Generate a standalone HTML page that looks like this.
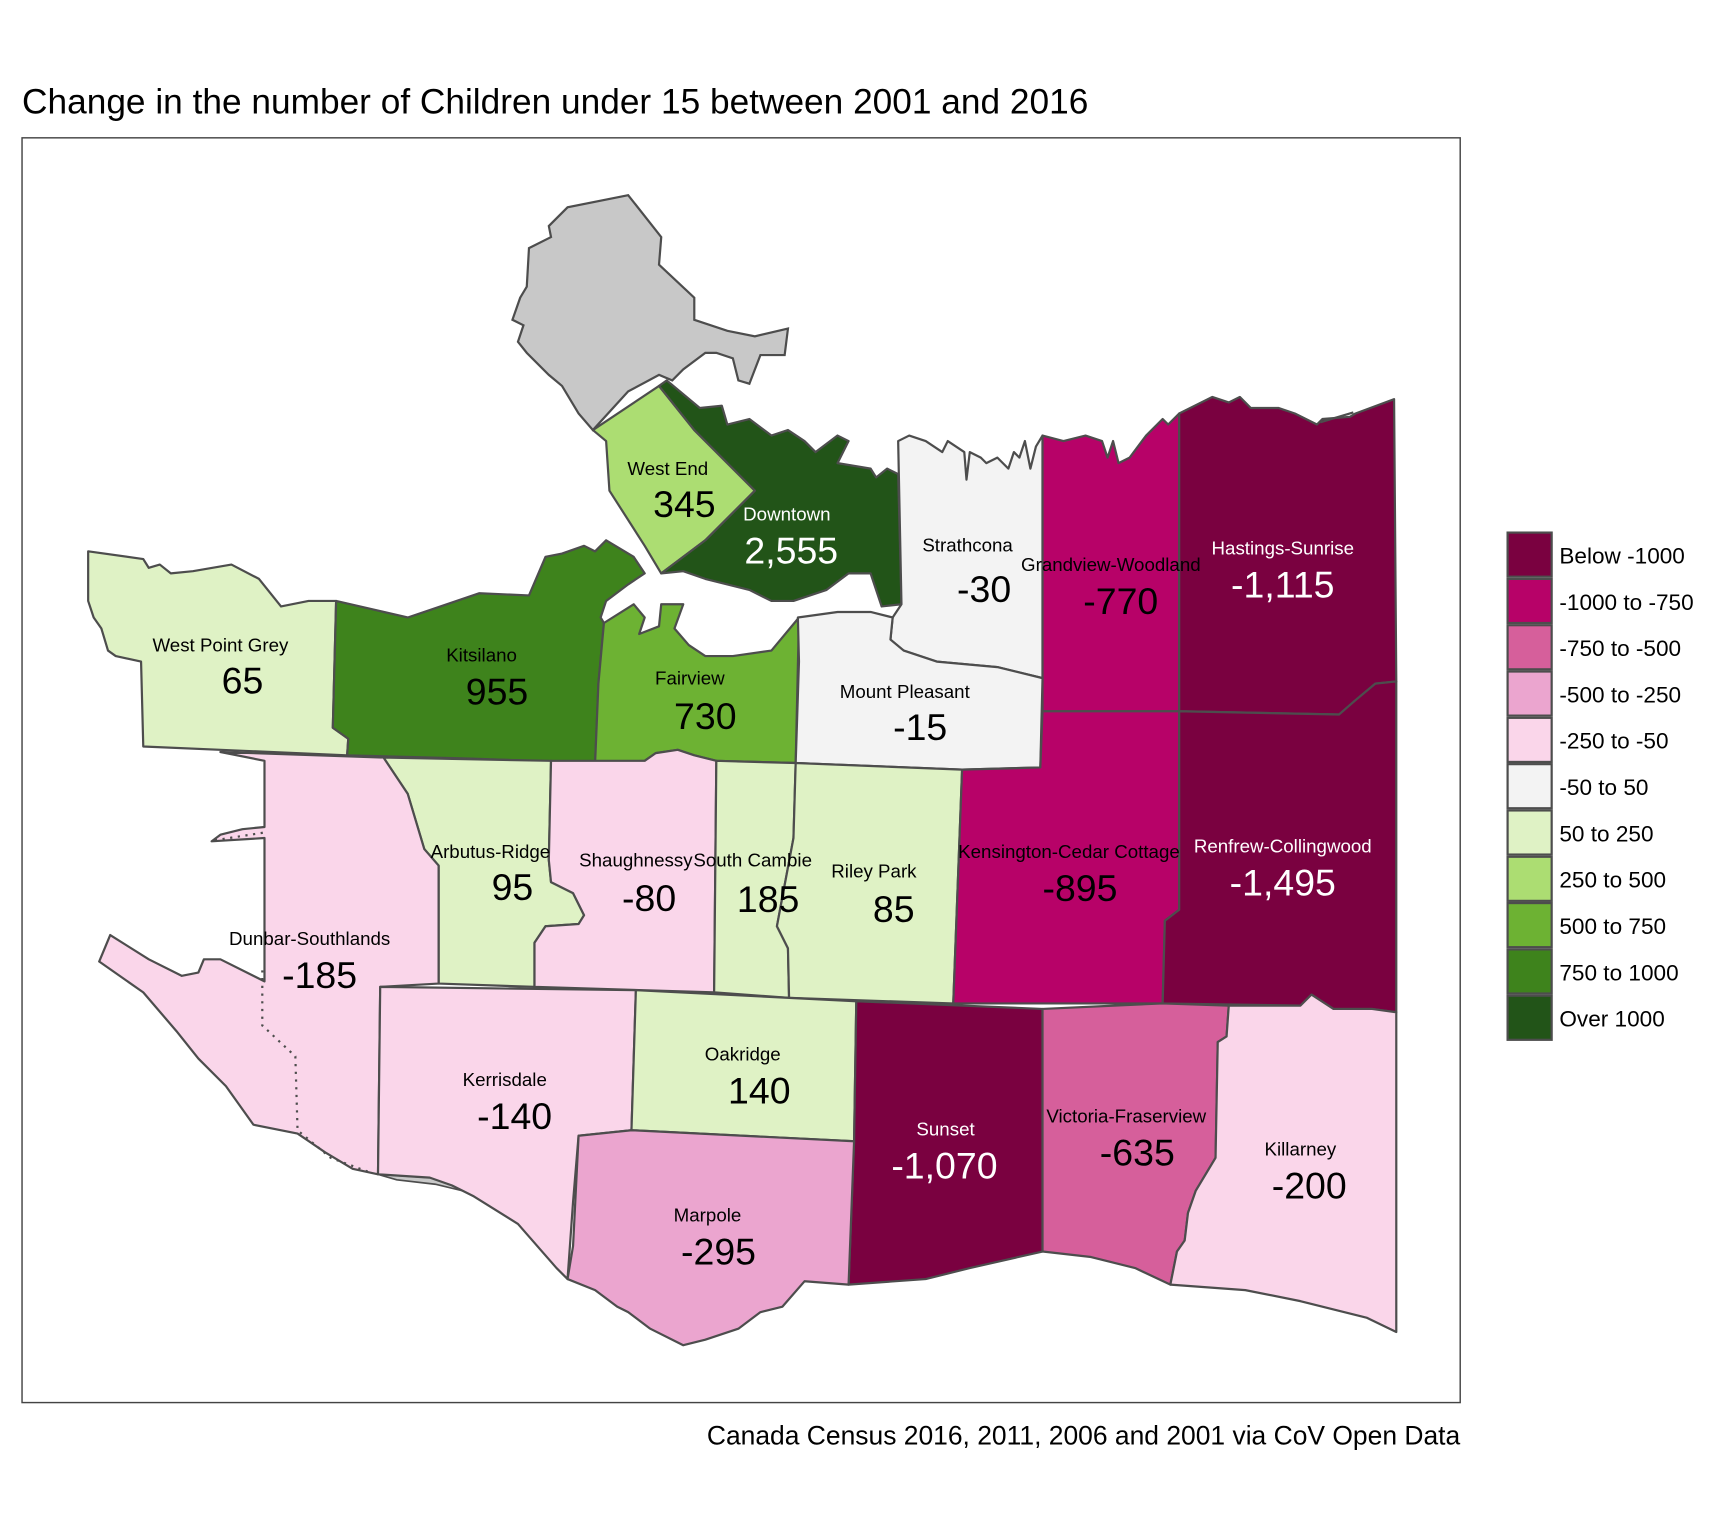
<!DOCTYPE html>
<html><head><meta charset="utf-8"><style>
html,body{margin:0;padding:0;background:#fff}
svg{display:block}
text{font-family:"Liberation Sans",Arial,sans-serif}
</style></head><body>
<svg id="chart" width="1728" height="1536" viewBox="0 0 1568 1393" preserveAspectRatio="none" xmlns="http://www.w3.org/2000/svg">
<text x="20" y="103" font-size="32" fill="#000">Change in the number of Children under 15 between 2001 and 2016</text>
<rect x="20" y="125" width="1305" height="1147" fill="#fff" stroke="#444" stroke-width="1.3"/>
<g id="map"></g>
<g id="legend"></g>
<text x="1325" y="1310" font-size="24" text-anchor="end" fill="#000">Canada Census 2016, 2011, 2006 and 2001 via CoV Open Data</text>
</svg>
<script>
const names = ["West End","Downtown","Strathcona","Grandview-Woodland","Hastings-Sunrise","West Point Grey","Kitsilano","Fairview","Mount Pleasant","Arbutus-Ridge","Shaughnessy","South Cambie","Riley Park","Kensington-Cedar Cottage","Renfrew-Collingwood","Dunbar-Southlands","Kerrisdale","Oakridge","Sunset","Victoria-Fraserview","Killarney","Marpole"];
const values = [345,2555,-30,-770,-1115,65,955,730,-15,95,-80,185,85,-895,-1495,-185,-140,140,-1070,-635,-200,-295];
const binLabels = ["Below -1000","-1000 to -750","-750 to -500","-500 to -250","-250 to -50","-50 to 50","50 to 250","250 to 500","500 to 750","750 to 1000","Over 1000"];
const binBreaks = [-1000,-750,-500,-250,-50,50,250,500,750,1000];
const binColors = ["#7a0140","#b70268","#d65f9b","#eba5cf","#fad6ea","#f3f3f3","#dff2c5","#acdd72","#6db233","#3e831c","#225418"];

const shapes = {
"West End":"538,390 598,350 630,390 685,445 640,490 600,520 585,495 553,445 550,400",
"Downtown":"598,350 605,345 635,370 655,368 660,385 680,380 700,395 715,390 730,400 740,410 760,395 770,400 760,420 790,425 795,433 805,425 815,430 818,548 800,550 790,520 770,520 750,535 720,545 700,545 680,535 660,530 640,525 620,518 600,520 640,490 685,445 630,390",
"Strathcona":"815,400 825,395 840,400 855,410 860,400 875,410 877,435 880,410 890,415 895,420 905,415 915,425 920,410 925,415 930,400 935,425 940,405 946,395 946,615 905,605 850,600 820,590 808,580 810,560 818,548",
"Grandview-Woodland":"946,395 965,400 985,395 1000,400 1005,415 1010,400 1015,420 1025,415 1040,395 1055,380 1060,385 1070,375 1070,645 946,645",
"Hastings-Sunrise":"1070,375 1100,360 1115,365 1125,360 1135,370 1160,370 1175,375 1195,385 1200,380 1225,378 1230,375 1265,362 1267,618 1248,620 1230,635 1215,648 1070,645",
"West Point Grey":"80,500 130,507 135,515 145,512 155,520 175,518 210,512 235,525 255,550 280,545 305,545 302,660 316,670 315,685 130,677 128,600 105,595 98,590 92,570 85,560 80,545",
"Kitsilano":"305,545 370,560 385,555 435,538 480,540 495,505 510,502 530,495 540,500 550,490 575,505 585,520 570,530 550,545 545,560 548,565 543,620 540,692 428,688 315,685 316,670 302,660",
"Fairview":"540,692 543,620 548,565 575,548 585,560 580,575 598,568 600,548 620,548 612,570 625,585 640,595 665,595 700,590 725,560 722,692 650,690 630,685 615,680 595,683 585,690",
"Mount Pleasant":"724,560 760,555 790,555 810,560 808,580 820,590 850,600 905,605 946,615 944,696 873,698 722,692 725,600",
"Arbutus-Ridge":"348,687 500,690 498,780 500,800 520,810 530,830 525,838 495,840 485,855 485,895 398,892 398,785 385,770 370,720",
"Shaughnessy":"500,690 585,690 595,683 615,680 630,685 650,690 648,900 485,895 485,855 495,840 525,838 530,830 520,810 500,800 498,780",
"South Cambie":"650,690 722,692 720,760 705,840 715,860 716,905 648,900",
"Riley Park":"722,692 873,698 865,910 716,905 715,860 705,840 720,760",
"Kensington-Cedar Cottage":"946,645 1070,645 1070,825 1057,835 1055,910 865,910 873,698 944,696",
"Renfrew-Collingwood":"1070,645 1215,648 1230,635 1248,620 1267,618 1267,918 1245,915 1210,915 1190,902 1180,912 1055,910 1057,835 1070,825",
"Dunbar-Southlands":"200,682 348,687 370,720 385,770 398,785 398,892 345,895 343,1065 320,1060 295,1045 270,1028 230,1020 205,985 180,960 160,935 130,900 90,872 100,848 135,870 165,885 180,882 185,870 200,870 240,890 240,825 240,760 192,763 200,757 220,752 240,750 240,690",
"Kerrisdale":"345,895 577,898 573,1025 525,1030 520,1090 515,1160 505,1150 470,1110 430,1085 410,1075 390,1068 343,1065",
"Oakridge":"577,898 777,908 775,1035 573,1025",
"Sunset":"777,908 946,915 946,1135 880,1150 840,1160 770,1165 775,1035",
"Victoria-Fraserview":"946,915 1055,910 1115,912 1113,940 1105,945 1103,1050 1085,1080 1078,1100 1075,1125 1068,1135 1062,1165 1030,1150 990,1140 946,1135",
"Killarney":"1115,912 1180,912 1190,902 1210,915 1245,915 1267,918 1267,1208 1240,1195 1180,1180 1130,1170 1062,1165 1068,1135 1075,1125 1078,1100 1085,1080 1103,1050 1105,945 1113,940",
"Marpole":"525,1030 573,1025 775,1035 770,1165 730,1162 710,1185 690,1190 670,1205 640,1215 620,1220 590,1205 570,1190 560,1185 540,1170 515,1160 520,1130 522,1090"
};
const labelPos = {
"West End":[606,431,621,468],"Downtown":[714,472,718,510],"Strathcona":[878,500,893,545],
"Grandview-Woodland":[1008,518,1017,556],"Hastings-Sunrise":[1164,503,1164,541],
"West Point Grey":[200,591,220,628],"Kitsilano":[437,600,451,638],"Fairview":[626,621,640,660],
"Mount Pleasant":[821,633,835,670],"Arbutus-Ridge":[445,778,465,815],"Shaughnessy":[577,786,589,825],
"South Cambie":[683,786,697,826],"Riley Park":[793,796,811,835],"Kensington-Cedar Cottage":[970,778,980,816],
"Renfrew-Collingwood":[1164,773,1164,811],"Dunbar-Southlands":[281,857,290,895],"Kerrisdale":[458,985,467,1023],
"Oakridge":[674,962,689,1000],"Sunset":[858,1030,857,1068],"Victoria-Fraserview":[1022,1018,1032,1056],
"Killarney":[1180,1048,1188,1086],"Marpole":[642,1108,652,1146]
};
function binIndex(v){let i=0;while(i<binBreaks.length && v>binBreaks[i]) i++;return i;}
const NS="http://www.w3.org/2000/svg";
const map=document.getElementById('map');
function mk(tag,attrs,parent){const e=document.createElementNS(NS,tag);for(const k in attrs)e.setAttribute(k,attrs[k]);parent.appendChild(e);return e;}
const slug=s=>s.toLowerCase().replace(/[^a-z0-9]+/g,'-');

const sp=mk('polygon',{points:"480,225 500,215 498,205 515,188 570,177 600,215 598,240 630,270 630,290 660,300 685,305 715,298 712,322 690,322 680,348 670,345 665,325 650,320 640,320 620,335 610,345 598,340 570,355 538,390 525,375 510,350 498,340 478,320 470,310 475,295 465,290 472,270 478,260",fill:"#c8c8c8",stroke:"#4d4d4d","stroke-width":2},map);


const sl=mk('polygon',{points:"343,1065 390,1068 410,1075 420,1080 395,1074 360,1070",fill:"#c8c8c8",stroke:"#4d4d4d","stroke-width":1.5},map);



names.forEach((n,i)=>{
  const p=mk('polygon',{points:shapes[n],fill:binColors[binIndex(values[i])],stroke:"#4d4d4d","stroke-width":2,"stroke-linejoin":"round"},map);
  
  
});
const dot=mk('path',{d:"M195,762 L240,755 M238,880 L238,930 L268,958 L270,1025 L300,1050 L335,1063",fill:"none",stroke:"#4d4d4d","stroke-width":2,"stroke-dasharray":"2,5"},map);


const sliver=mk('path',{d:"M1198,383 L1228,374",stroke:"#4d4d4d","stroke-width":2,fill:"none"},map);



names.forEach((n,i)=>{
  const lp=labelPos[n];const col=binIndex(values[i])===0||binIndex(values[i])===10?"#fff":"#000";
  const t1=mk('text',{x:lp[0],y:lp[1],"font-size":17,"text-anchor":"middle",fill:col},map);
  t1.textContent=n;
  
  
  const t2=mk('text',{x:lp[2],y:lp[3]+1,"font-size":34,"text-anchor":"middle",fill:col},map);
  t2.textContent=values[i].toLocaleString('en-US');
  
  
});

const lg=document.getElementById('legend');
binLabels.forEach((l,i)=>{
  const y=483+i*42;
  const r=mk('rect',{x:1368,y:y,width:40,height:40,fill:binColors[i],stroke:"#4d4d4d","stroke-width":2},lg);
  
  
  const t=mk('text',{x:1415,y:y+28,"font-size":20.5,fill:"#000"},lg);
  t.textContent=l;
  
  
});
</script>
</body></html>
